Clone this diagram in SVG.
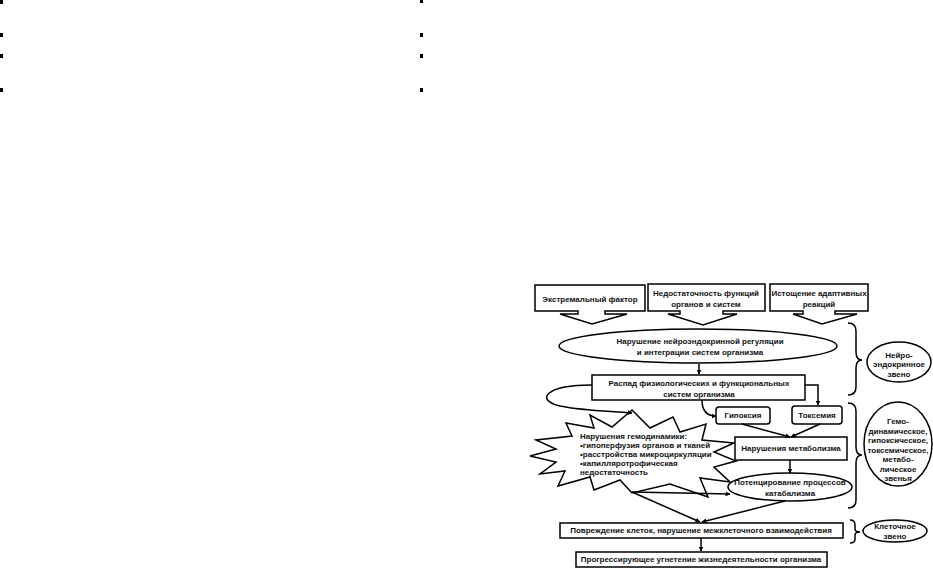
<svg xmlns="http://www.w3.org/2000/svg" width="933" height="576" viewBox="0 0 933 576">
<defs>
<marker id="ah" viewBox="0 0 10 10" refX="9" refY="5" markerWidth="5" markerHeight="5" orient="auto" markerUnits="userSpaceOnUse">
<path d="M0,0 L10,5 L0,10 z" fill="#000"/>
</marker>
<style>
.s{fill:#fff;stroke:#000;stroke-width:1.5}
.t{font-family:"Liberation Sans",Arial,sans-serif;font-weight:bold;font-size:8px;fill:#111;text-anchor:middle}
.l{text-anchor:start}
.c{fill:none;stroke:#000;stroke-width:1.5}
.m{fill:#000}
</style>
</defs>
<rect width="933" height="576" fill="#fff"/>
<g id="marks">
<rect class="m" x="0" y="0" width="3" height="4"/>
<rect class="m" x="0" y="33" width="3" height="4"/>
<rect class="m" x="0" y="54" width="3" height="4"/>
<rect class="m" x="0" y="88" width="3" height="4"/>
<rect class="m" x="420" y="0" width="3" height="3"/>
<rect class="m" x="420" y="33" width="3" height="4"/>
<rect class="m" x="420" y="54" width="3" height="4"/>
<rect class="m" x="420" y="88" width="3" height="4"/>
</g>
<g id="n-extreme">
<path class="s" d="M535,285 H645 V311 H605 V314 H627 L592,324 L560,314 H578 V311 H535 Z"/>
<text class="t" x="590" y="302">Экстремальный фактор</text>
</g>
<g id="n-insuff">
<path class="s" d="M648,284 H765 V311 H723 V314 H737 L703,325 L668,314 H680 V311 H648 Z"/>
<text class="t" x="706" y="296">Недостаточность функций</text>
<text class="t" x="706" y="307">органов и систем</text>
</g>
<g id="n-exhaust">
<path class="s" d="M770,284 H868 V311 H835 V314 H857 L822,324 L793,314 H803 V311 H770 Z"/>
<text class="t" x="819" y="296">Истощение адаптивных</text>
<text class="t" x="819" y="307">реакций</text>
</g>
<g id="n-neuro">
<ellipse class="s" cx="698" cy="346" rx="139" ry="17"/>
<text class="t" x="700" y="344">Нарушение нейроэндокринной регуляции</text>
<text class="t" x="700" y="355">и интеграции систем организма</text>
</g>
<g id="n-decay">
<rect class="s" x="592" y="375" width="213" height="25"/>
<text class="t" x="699" y="386">Распад физиологических и функциональных</text>
<text class="t" x="699" y="397">систем организма</text>
</g>
<g id="n-hypoxia">
<rect class="s" x="716" y="407" width="54" height="17" rx="3"/>
<text class="t" x="743" y="418">Гипоксия</text>
</g>
<g id="n-toxemia">
<rect class="s" x="792" y="406" width="50" height="18" rx="3"/>
<text class="t" x="817" y="418">Токсемия</text>
</g>
<g id="n-hemo">
<polygon class="s" points="632,410 650,428 673,417 680,432 706,424 702,440 734,443 714,452 736,461 714,467 730,482 700,478 708,497 670,484 632,493 620,480 594,490 590,477 558,486 565,471 540,474 556,462 530,456 556,449 536,440 572,436 566,423 594,428 590,415 612,427"/>
<text class="t l" x="580" y="439">Нарушения гемодинамики:</text>
<text class="t l" x="580" y="448">•гипоперфузия органов и тканей</text>
<text class="t l" x="580" y="457">•расстройства микроциркуляции</text>
<text class="t l" x="580" y="466">•капилляротрофическая</text>
<text class="t l" x="580" y="475">недостаточность</text>
</g>
<g id="n-metab">
<rect class="s" x="735" y="437" width="112" height="23"/>
<text class="t" x="791" y="451">Нарушения метаболизма</text>
</g>
<g id="n-catab">
<ellipse class="s" cx="790" cy="487" rx="62" ry="14"/>
<text class="t" x="790" y="485">Потенцирование процессов</text>
<text class="t" x="790" y="496">катабализма</text>
</g>
<g id="n-cells">
<rect class="s" x="560" y="523" width="283" height="15"/>
<text class="t" x="701" y="533">Повреждение клеток, нарушение межклеточного взаимодействия</text>
</g>
<g id="n-progress">
<rect class="s" x="576" y="552" width="251" height="15"/>
<text class="t" x="701" y="562">Прогрессирующее угнетение жизнедеятельности организма</text>
</g>
<g id="n-l1">
<ellipse class="s" cx="899" cy="362" rx="32" ry="20"/>
<text class="t" x="899" y="358">Нейро-</text>
<text class="t" x="899" y="367">эндокринное</text>
<text class="t" x="899" y="377">звено</text>
</g>
<g id="n-l2">
<ellipse class="s" cx="898" cy="444" rx="34" ry="42"/>
<text class="t" x="898" y="424">Гемо-</text>
<text class="t" x="898" y="434">динамическое,</text>
<text class="t" x="898" y="443">гипоксическое,</text>
<text class="t" x="898" y="453">токсемическое,</text>
<text class="t" x="898" y="462">метабо-</text>
<text class="t" x="898" y="472">лическое</text>
<text class="t" x="898" y="481">звенья</text>
</g>
<g id="n-l3">
<ellipse class="s" cx="895" cy="531" rx="32" ry="11"/>
<text class="t" x="895" y="529">Клеточное</text>
<text class="t" x="895" y="539">звено</text>
</g>
<g id="connectors">
<path class="c" d="M699,364 V374" marker-end="url(#ah)"/>
<path class="c" d="M805,385 H818 V405" marker-end="url(#ah)"/>
<path class="c" d="M592,385 C545,385 535,400 560,406 C585,411 610,411 632,413" marker-end="url(#ah)"/>
<path class="c" d="M702,400 C702,410 706,416 716,416" marker-end="url(#ah)"/>
<path class="c" d="M742,424 L790,437" marker-end="url(#ah)"/>
<path class="c" d="M820,424 L791,437" marker-end="url(#ah)"/>
<path class="c" d="M790,460 V473" marker-end="url(#ah)"/>
<path class="c" d="M632,492 L730,494" marker-end="url(#ah)"/>
<path class="c" d="M632,492 L700,522" marker-end="url(#ah)"/>
<path class="c" d="M785,501 L702,522" marker-end="url(#ah)"/>
<path class="c" d="M701,538 V551" marker-end="url(#ah)"/>
<path class="c" d="M848,323 Q856,323 856,331 L856,352 Q856,360 862,360 Q856,360 856,368 L856,387 Q856,395 848,395"/>
<path class="c" d="M848,403 Q856,403 856,411 L856,447 Q856,455 862,455 Q856,455 856,463 L856,500 Q856,508 848,508"/>
<path class="c" d="M850,520 Q855,520 855,525 L855,529 Q855,532 860,532 Q855,532 855,535 L855,539 Q855,543 850,543"/>
</g>
</svg>
